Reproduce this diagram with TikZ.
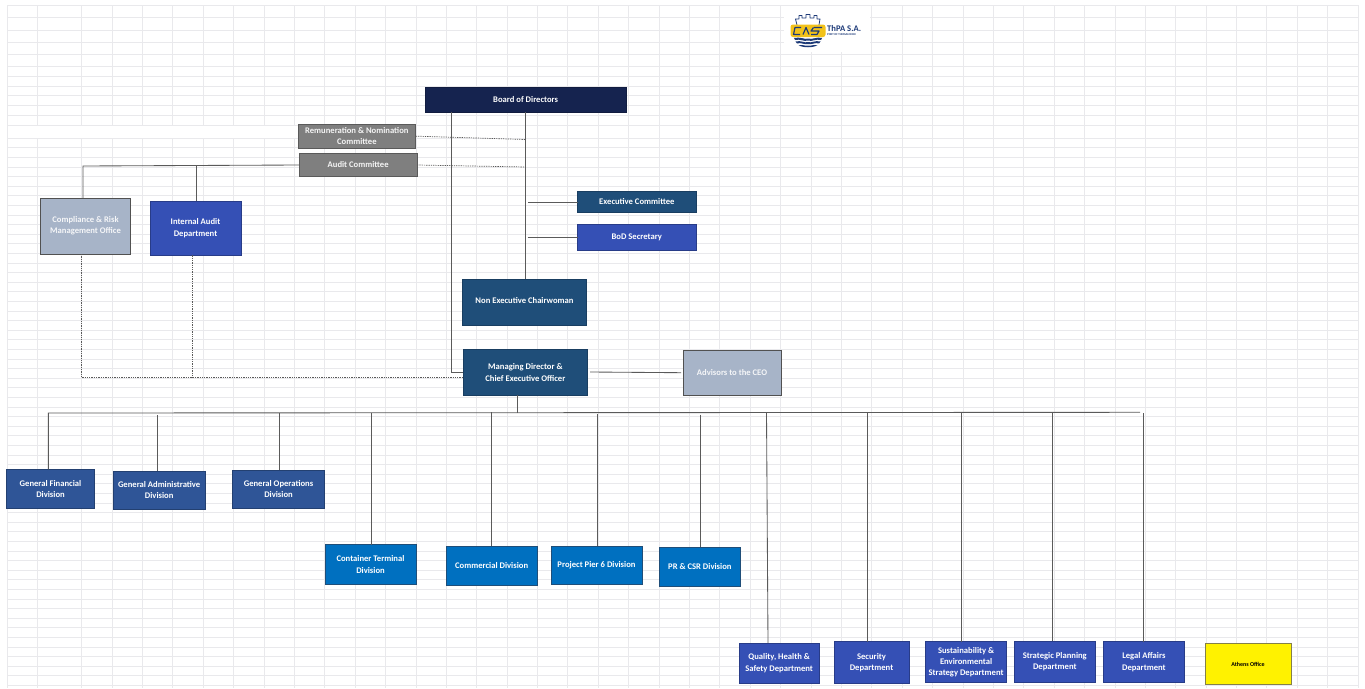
\documentclass[tikz,border=0pt]{standalone}
\usepackage{fontspec}
\setmainfont{Carlito}
\definecolor{gridc}{HTML}{E9E9EC}
\definecolor{linec}{HTML}{5A5A5A}
\definecolor{navy}{HTML}{15234F}
\definecolor{steel}{HTML}{1F4E79}
\definecolor{royal}{HTML}{3550B5}
\definecolor{midb}{HTML}{2F5597}
\definecolor{brightb}{HTML}{0070C0}
\definecolor{pale}{HTML}{A7B4C8}
\definecolor{greyb}{HTML}{7F7F7F}
\definecolor{logoy}{HTML}{F2C21A}
\definecolor{logob}{HTML}{1D3A78}
\tikzset{
  boxbase/.style={rectangle,inner sep=0pt,outer sep=0pt,align=center,font=\fontsize{8.6}{11.4}\selectfont\bfseries,text=white,line width=.8pt},
  navybox/.style={boxbase,fill=navy,draw=navy!80!black},
  steelbox/.style={boxbase,fill=steel,draw=steel!80!black},
  royalbox/.style={boxbase,fill=royal,draw=royal!75!black},
  midbox/.style={boxbase,fill=midb,draw=midb!75!black},
  brightbox/.style={boxbase,fill=brightb,draw=steel},
  palebox/.style={boxbase,fill=pale,draw=linec!90!black,text=white!88!pale},
  greybox/.style={boxbase,fill=greyb,draw=linec,text=white!92!greyb},
  yellowbox/.style={boxbase,fill=yellow,draw=yellow!45!black,text=black,font=\fontsize{6}{7}\selectfont\bfseries},
  conn/.style={draw=linec,line width=.85pt},
  dotconn/.style={draw=linec,line width=.7pt,dash pattern=on 1.3pt off 1pt},
  gridline/.style={draw=gridc,line width=.9pt}
}
\newcommand\bx[7]{\node[#6,minimum width={(#4-#2)*1pt},minimum height={(#5-#3)*1pt}] (#1) at ({(#2+#4)/2},{(#3+#5)/2}) {#7};}
\begin{document}
\begin{tikzpicture}[x=1pt,y=-1pt]
\useasboundingbox (0,0) rectangle (1365,688);
\fill[white] (0,0) rectangle (1365,688);
% sheet grid
\foreach \yy in {5,17.3,30.5,42.3,54.3,66.5,76.5,86,95.7,105.7,115.5,125,138.3}
  \draw[gridline] (7,\yy) -- (1358,\yy);
\foreach \k in {0,...,57}
  \draw[gridline] (7,{138.3+9.6*\k}) -- (1358,{138.3+9.6*\k});
\draw[gridline] (7,5) -- (7,688);
\draw[gridline] (37.7,5) -- (37.7,688);
\foreach \k in {0,...,42}
  \draw[gridline] ({81.7+30.39*\k},5) -- ({81.7+30.39*\k},688);
% merged band and logo area
\fill[white] (7.6,125.6) rectangle (298,137.8);
\fill[white] (784,5.6) rectangle (869.5,52);
% logo
\draw[logob,line width=.8pt,line join=round] (797,25) -- (795.5,19) -- (799,19) -- (799,15.5) -- (802,15.5) -- (802,18) -- (806,18) -- (806,14.5) -- (810,14.5) -- (810,18) -- (814,18) -- (814,15.5) -- (817,15.5) -- (817,19) -- (820,19) -- (819,25);
\fill[logoy,rounded corners=2.5pt] (790.5,24.5) rectangle (825.5,37);
\draw[logob,line width=1.2pt,line join=round] (801,27.5) -- (795,27.5) -- (793.5,34.5) -- (800,34.5) (803,34.5) -- (806,27.5) -- (809,34.5) (813.5,27.5) -- (811,31) -- (819,31) -- (817,34.5) -- (811,34.5) (814,27.5) -- (822,27.5);
\fill[logob] (794,38) .. controls (800,36.5) and (806,40) .. (808,38.5) .. controls (812,40) and (817,36.5) .. (822,38) -- (821,40) .. controls (816,38.6) and (812,42) .. (808,40.5) .. controls (804,42) and (800,38.6) .. (795,40) -- cycle;
\fill[logob] (795.5,41.5) .. controls (801,40) and (805,43.5) .. (808,42) .. controls (811,43.5) and (815,40) .. (820.5,41.5) -- (819,43.5) .. controls (815,42) and (811,45.2) .. (808,44) .. controls (805,45.2) and (801,42) .. (797,43.5) -- cycle;
\fill[logob] (798.5,45) .. controls (802,44) and (805,46.5) .. (808,45.5) .. controls (811,46.5) and (814,44) .. (817.5,45) .. controls (814,48) and (802,48) .. (798.5,45) -- cycle;
\node[inner sep=0pt,anchor=west,text=logob,font=\fontsize{8.6}{9}\selectfont\bfseries] (logoname) at (827,28.2) {ThPA S.A.};
\node[inner sep=0pt,anchor=west,text=logob,font=\fontsize{2.9}{3}\selectfont\bfseries] (logosub) at (827,34.6) {PORT OF THESSALONIKI};
% boxes
\bx{board}{425.3}{87.3}{626}{112.3}{navybox}{Board of Directors}
\bx{remun}{298}{124.3}{415.7}{148}{greybox}{Remuneration \& Nomination\\Committee}
\bx{audit}{299.3}{153.3}{417}{176.7}{greybox}{Audit Committee}
\bx{compl}{40.3}{198}{130.7}{254}{palebox}{Compliance \& Risk\\Management Office}
\bx{intaud}{150}{201}{241}{255.3}{royalbox}{Internal Audit\\Department}
\bx{exec}{577.7}{191}{696}{212.3}{steelbox}{Executive Committee}
\bx{secr}{577.5}{224}{696}{250.7}{royalbox}{BoD Secretary}
\bx{chair}{462.3}{279}{586.7}{325}{steelbox}{\raisebox{4pt}{Non Executive Chairwoman}}
\bx{ceo}{463}{349.7}{587.7}{395.3}{steelbox}{Managing Director \&\\Chief Executive Officer}
\bx{advis}{683}{350.7}{781}{395.3}{palebox}{Advisors to the CEO}
\bx{gfin}{6.7}{469.3}{94.3}{508.3}{midbox}{General Financial\\Division}
\bx{gadm}{113}{471.3}{205.3}{509.3}{midbox}{General Administrative\\Division}
\bx{gops}{232.7}{470}{324.3}{508.3}{midbox}{General Operations\\Division}
\bx{cont}{325}{544.7}{416}{584}{brightbox}{Container Terminal\\Division}
\bx{comm}{446.3}{546.3}{537}{585}{brightbox}{Commercial Division}
\bx{pier}{551}{546}{642}{584.7}{brightbox}{Project Pier 6 Division}
\bx{prcsr}{659.7}{547}{740}{586}{brightbox}{PR \& CSR Division}
\bx{qhs}{739.3}{643}{819}{683.7}{royalbox}{Quality, Health \&\\Safety Department}
\bx{secu}{834}{641.7}{909}{683.7}{royalbox}{Security\\Department}
\bx{sust}{925.5}{641.7}{1006.7}{682.6}{royalbox}{Sustainability \&\\Environmental\\Strategy Department}
\bx{plan}{1014}{641}{1095.6}{682.3}{royalbox}{Strategic Planning\\Department}
\bx{legal}{1103}{641.7}{1184.7}{682.6}{royalbox}{Legal Affairs\\Department}
\bx{athens}{1205}{643.3}{1291}{684.7}{yellowbox}{Athens Office}
% free connector ends
\coordinate (bdA) at (451,112.3);
\coordinate (bdB) at (525.3,112.3);
\coordinate (bendA) at (451,372.3);
\coordinate (busL) at (48.4,413);
\coordinate (busR) at (1140,412.3);
\coordinate (busC) at (517.3,412.5);
\coordinate (audL) at (83,166);
\coordinate (audM) at (196,166);
\coordinate (dashL) at (81.5,377.5);
\coordinate (dashM) at (192.7,377.5);
\coordinate (tapR) at (525.3,139.5);
\coordinate (tapA) at (525.3,167);
\coordinate (tapE) at (528.3,202.5);
\coordinate (tapS) at (527.7,237);
\coordinate (ceoR) at (590,372);
\coordinate (advL) at (681,372.7);
\coordinate (t1) at (157.7,415);
\coordinate (t2) at (279.3,413);
\coordinate (t3) at (371.7,413);
\coordinate (t4) at (491.5,412);
\coordinate (t5) at (597.5,414);
\coordinate (t6) at (700,414.5);
\coordinate (t7) at (766.5,413);
\coordinate (t8) at (867.5,413);
\coordinate (t9) at (961.2,413);
\coordinate (t10) at (1052.5,413);
\coordinate (t11) at (1143,413);
% connectors
\draw[conn] (bdB) -- (chair.north -| bdB);
\draw[conn] (bdA) -- (bendA) -- (bendA -| ceo.west);
\draw[dotconn] (remun.east) -- (tapR);
\draw[dotconn] (audit.east) -- (tapA);
\draw[conn] (tapE) -- (tapE -| exec.west);
\draw[conn] (tapS) -- (tapS -| secr.west);
\draw[conn] (audit.west) -- (audL) -- (audL |- compl.north);
\draw[conn] (audM) -- (audM |- intaud.north);
\draw[dotconn] (compl.south -| dashL) -- (dashL) -- (dashL -| ceo.west);
\draw[dotconn] (intaud.south -| dashM) -- (dashM);
\draw[conn] (ceoR) -- (advL);
\draw[conn] (ceo.south -| busC) -- (busC);
\draw[conn] (gfin.north -| busL) -- (busL) -- (busR);
\draw[conn] (t1) -- (t1 |- gadm.north);
\draw[conn] (t2) -- (t2 |- gops.north);
\draw[conn] (t3) -- (t3 |- cont.north);
\draw[conn] (t4) -- (t4 |- comm.north);
\draw[conn] (t5) -- (t5 |- pier.north);
\draw[conn] (t6) -- (t6 |- prcsr.north);
\draw[conn] (t7) -- (qhs.north -| 768,0);
\draw[conn] (t8) -- (t8 |- secu.north);
\draw[conn] (t9) -- (t9 |- sust.north);
\draw[conn] (t10) -- (t10 |- plan.north);
\draw[conn] (t11) -- (t11 |- legal.north);
\end{tikzpicture}
\end{document}
